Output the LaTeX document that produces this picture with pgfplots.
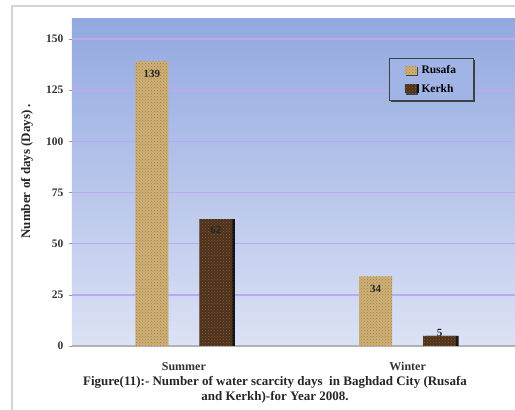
\documentclass[border=0pt]{standalone}
\usepackage{fontspec}
\setmainfont{Liberation Serif}
\usepackage{pgfplots}
\pgfplotsset{compat=1.18}
\usetikzlibrary{patterns,shadows}

\definecolor{bgtop}{RGB}{146,168,224}
\definecolor{bgbot}{RGB}{220,226,245}
\definecolor{gridc}{RGB}{188,168,242}
\definecolor{sand}{RGB}{206,176,118}
\definecolor{sanddark}{RGB}{160,126,76}
\definecolor{soil}{RGB}{78,50,28}
\definecolor{soillight}{RGB}{128,94,58}
\definecolor{legbg}{RGB}{160,180,229}
\definecolor{framec}{RGB}{212,212,212}

\begin{document}
\begin{tikzpicture}
\useasboundingbox (0pt,0pt) rectangle (515pt,410pt);
\fill[white] (0pt,0pt) rectangle (515pt,410pt);
% outer chart frame
\draw[framec, line width=1.6pt] (12pt,-5pt) -- (12pt,404pt) -- (530pt,404pt);

\begin{axis}[
  at={(72pt,64pt)}, anchor=south west,
  scale only axis,
  width=443pt, height=327.5pt,
  xmin=-0.5, xmax=1.48,
  ymin=0, ymax=160,
  ybar, bar width=33pt,
  axis background/.style={top color=bgtop, bottom color=bgbot},
  ytick={0,25,50,75,100,125,150},
  xtick={0,1},
  xticklabels={Summer,Winter},
  extra x ticks={0.5},
  extra x tick labels={},
  extra x tick style={major tick length=4pt, tick style={gray!70, line width=0.8pt}},
  major x tick style={draw=none},
  tick align=outside,
  major tick length=3pt,
  ytick style={gray!80, line width=0.6pt},
  ymajorgrids,
  grid style={gridc, line width=1.4pt},
  axis x line*=bottom, axis y line*=left,
  axis line style={-},
  x axis line style={gray!60, line width=1.6pt},
  y axis line style={draw=none},
  /pgf/number format/assume math mode=true,
  yticklabel style={font=\fontsize{11.5}{13}\selectfont\bfseries, text=black!80, xshift=-2pt},
  xticklabel style={font=\fontsize{12}{14}\selectfont\bfseries, text=black!80, yshift=-10pt},
  ylabel={Number of days (Days)\ .},
  ylabel style={at={(axis description cs:-0.1016,0.534)}, anchor=center,
    font=\fontsize{13}{15}\selectfont\bfseries, text=black!85},
  legend style={at={(0.7156,0.879)}, anchor=north west,
    draw=black!75, line width=1pt, fill=legbg,
    drop shadow={shadow xshift=1.5pt, shadow yshift=-1.5pt, fill=black!80, opacity=0.9},
    font=\fontsize{11.5}{13}\selectfont\bfseries,
    inner xsep=15pt, inner ysep=5pt, row sep=5pt,
    /tikz/every odd column/.append style={column sep=3pt},
    legend cell align=left},
  legend image code/.code={\fill[#1] (0pt,-4.5pt) rectangle (12pt,4.5pt);},
  nodes near coords style={font=\fontsize{11}{13}\selectfont\bfseries, text=black!85},
]
% Rusafa
\addplot[bar shift=-32pt, draw=none, fill=sand,
  postaction={pattern=crosshatch dots, pattern color=sanddark},
  nodes near coords, every node near coord/.append style={anchor=north, yshift=-5pt}]
  coordinates {(0,139) (1,34)};
\addlegendentry{Rusafa}
% Kerkh
\addplot[bar shift=32pt, draw=none, fill=soil,
  postaction={pattern=crosshatch dots, pattern color=soillight},
  drop shadow={shadow xshift=2.5pt, shadow yshift=0pt, fill=black, opacity=0.9}]
  coordinates {(0,62) (1,5)};
\addlegendentry{Kerkh}
% value labels for the Kerkh bars
\addplot[forget plot, bar shift=32pt, draw=none, fill=none,
  nodes near coords, every node near coord/.append style={anchor=north, yshift=-4pt}]
  coordinates {(0,62)};
\addplot[forget plot, bar shift=32pt, draw=none, fill=none,
  nodes near coords, every node near coord/.append style={anchor=south, yshift=-4pt}]
  coordinates {(1,5)};
\end{axis}

\node[align=center, font=\fontsize{13}{15}\selectfont\bfseries, text=black!85]
  at (275pt,20pt) {Figure(11):- Number of water scarcity days\ \ in Baghdad City (Rusafa\\and Kerkh)-for Year 2008.};
\end{tikzpicture}
\end{document}
